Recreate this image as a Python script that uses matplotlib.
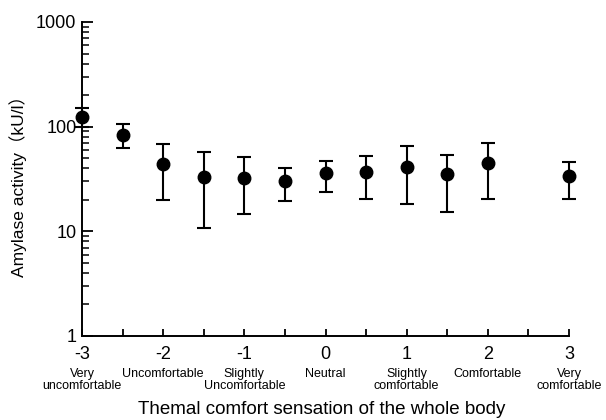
import matplotlib
matplotlib.use("Agg")
import matplotlib.pyplot as plt
from matplotlib.ticker import FixedLocator, LogLocator, NullFormatter, FixedFormatter

# ---- data ----
comfort_scores = [-3, -2.5, -2, -1.5, -1, -0.5, 0, 0.5, 1, 1.5, 2, 3]
amylase_mean = [123, 84, 44, 33, 32, 30, 36, 37, 41, 35, 45, 34]
amylase_upper = [152, 107, 69, 57, 51, 40, 47, 53, 65, 54, 70, 46]
amylase_lower = [100, 62, 20, 10.8, 14.7, 19.6, 24, 20.3, 18.4, 15.2, 20.2, 20.2]

x_tick_values = [-3, -2, -1, 0, 1, 2, 3]
x_tick_labels = ["-3", "-2", "-1", "0", "1", "2", "3"]
category_labels = ["Very\nuncomfortable", "Uncomfortable", "Slightly\nUncomfortable",
                   "Neutral", "Slightly\ncomfortable", "Comfortable", "Very\ncomfortable"]
y_tick_values = [1, 10, 100, 1000]
y_tick_labels = ["1", "10", "100", "1000"]

regular = ["Liberation Sans", "Noto Sans CJK JP", "DejaVu Sans"]

fig = plt.figure(figsize=(6.06, 4.2), dpi=100)
ax = fig.add_axes([82 / 606, 1 - 336 / 420, (569 - 82) / 606, (336 - 22) / 420])

err_lo = [m - l for m, l in zip(amylase_mean, amylase_lower)]
err_hi = [u - m for m, u in zip(amylase_mean, amylase_upper)]
ax.errorbar(comfort_scores, amylase_mean, yerr=[err_lo, err_hi], fmt="o",
            color="black", markersize=9, elinewidth=1.5, capsize=5, capthick=1.5,
            clip_on=False, zorder=3)

ax.set_yscale("log")
ax.set_ylim(1, 1000)
ax.set_xlim(-3, 3)

for s in ["top", "right"]:
    ax.spines[s].set_visible(False)
for s in ["left", "bottom"]:
    ax.spines[s].set_linewidth(1.4)

ax.yaxis.set_major_locator(FixedLocator(y_tick_values))
ax.yaxis.set_major_formatter(FixedFormatter(y_tick_labels))
ax.yaxis.set_minor_locator(LogLocator(base=10, subs=range(2, 10)))
ax.yaxis.set_minor_formatter(NullFormatter())
ax.tick_params(axis="y", which="major", direction="in", length=8, width=1.3, pad=4)
ax.tick_params(axis="y", which="minor", direction="in", length=5, width=1.1)

ax.xaxis.set_major_locator(FixedLocator(x_tick_values))
ax.xaxis.set_major_formatter(FixedFormatter(x_tick_labels))
ax.xaxis.set_minor_locator(FixedLocator([-2.5, -1.5, -0.5, 0.5, 1.5, 2.5]))
ax.tick_params(axis="x", which="both", direction="in", length=5, width=1.3, pad=7)

for lbl in ax.get_xticklabels() + ax.get_yticklabels():
    lbl.set_fontfamily(regular)
    lbl.set_fontsize(13)

for xv, cat in zip(x_tick_values, category_labels):
    ax.annotate(cat, xy=(xv, 0), xycoords=("data", "axes fraction"),
                xytext=(0, -23), textcoords="offset points",
                ha="center", va="top", fontsize=9, family=regular,
                linespacing=1.05, annotation_clip=False)

ax.set_xlabel("Themal comfort sensation of the whole body", fontsize=13.5,
              family=regular)
ax.xaxis.set_label_coords(0.492, -0.235)
ax.xaxis.label.set_va("center")
ax.set_ylabel("Amylase activity（kU/l）", fontsize=12.5, family=regular)
ax.yaxis.set_label_coords(-0.113, 0.49)

fig.savefig("out.png", dpi=100, facecolor="white")
